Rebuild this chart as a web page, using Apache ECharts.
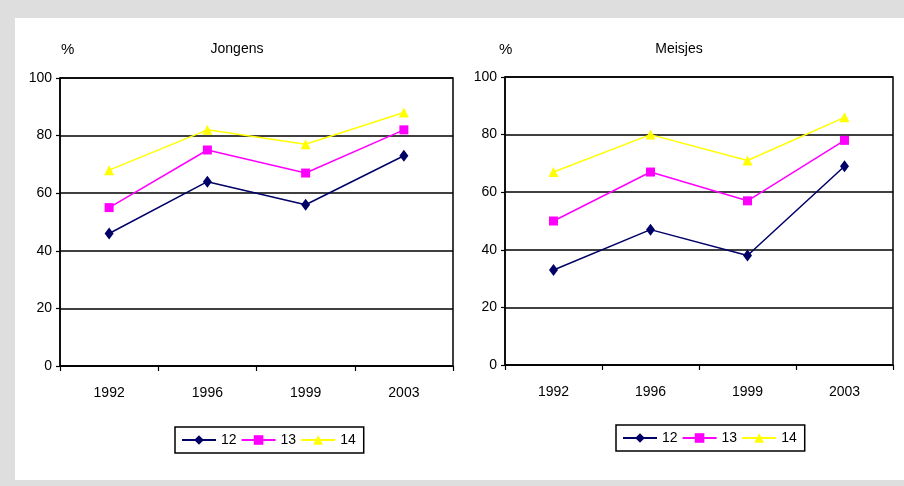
<!DOCTYPE html>
<html>
<head>
<meta charset="utf-8">
<script src="https://cdn.jsdelivr.net/npm/echarts@6/dist/echarts.min.js"></script>
<style>
  html, body { margin: 0; padding: 0; }
  #wrap { position: relative; width: 904px; height: 486px; background: #dedede; overflow: hidden; }
  #inner { position: absolute; left: 15px; top: 18px; width: 889px; height: 462px; background: #ffffff; }
  #chart { position: absolute; left: 0; top: 0; width: 904px; height: 486px; }
</style>
</head>
<body>
<div id="wrap"><div id="inner"></div><div id="chart"></div></div>
<script>
const categories = ['1992', '1996', '1999', '2003'];
const ageGroups = ['12', '13', '14'];
const panelTitles = ['Jongens', 'Meisjes'];
const jongens12 = [46, 64, 56, 73];
const jongens13 = [55, 75, 67, 82];
const jongens14 = [68, 82, 77, 88];
const meisjes12 = [33, 47, 38, 69];
const meisjes13 = [50, 67, 57, 78];
const meisjes14 = [67, 80, 71, 86];
const yMin = 0, yMax = 100, yStep = 20;

const colors = { '12': '#000066', '13': '#ff00ff', '14': '#ffff00' };
const symbols = { '12': 'diamond', '13': 'rect', '14': 'triangle' };
const symbolSizes = { '12': [9, 12], '13': 9, '14': 10 };
const FONT = "'Liberation Sans', Arial, sans-serif";

const panelData = [
  [jongens12, jongens13, jongens14],
  [meisjes12, meisjes13, meisjes14]
];

const grids = [
  { left: 60, top: 78, width: 393, height: 288 },
  { left: 505, top: 77, width: 388, height: 288 }
];

function makeX(i) {
  return {
    type: 'category', gridIndex: i, data: categories, boundaryGap: true,
    axisLine: { show: true, lineStyle: { color: '#000', width: 1.5 } },
    axisTick: { show: true, alignWithLabel: false, length: 5, lineStyle: { color: '#000', width: 1.2 } },
    axisLabel: { color: '#000', fontFamily: FONT, fontSize: 14, margin: 20 },
    splitLine: { show: false }
  };
}
function makeY(i) {
  return {
    type: 'value', gridIndex: i, min: yMin, max: yMax, interval: yStep,
    axisLine: { show: true, lineStyle: { color: '#000', width: 1.5 } },
    axisTick: { show: true, length: 4, lineStyle: { color: '#000', width: 1.2 } },
    axisLabel: { color: '#000', fontFamily: FONT, fontSize: 14, margin: 8 },
    splitLine: { show: true, lineStyle: { color: '#000', width: 1.5 } }
  };
}

const series = [];
panelData.forEach((arrs, p) => {
  arrs.forEach((vals, k) => {
    const name = ageGroups[k];
    series.push({
      name: name, type: 'line', xAxisIndex: p, yAxisIndex: p, data: vals,
      symbol: symbols[name], symbolSize: symbolSizes[name], showAllSymbol: true,
      itemStyle: { color: colors[name] },
      lineStyle: { color: colors[name], width: 1.5 },
      z: 3 + k
    });
  });
});

function makeLegend(left, top) {
  return {
    left: left, top: top, orient: 'horizontal',
    data: ageGroups,
    itemWidth: 34, itemHeight: 12, itemGap: 4,
    padding: [6, 8, 6, 6],
    borderColor: '#000', borderWidth: 1.5,
    textStyle: { color: '#000', fontFamily: FONT, fontSize: 14 },
    selectedMode: false
  };
}

const chart = echarts.init(document.getElementById('chart'));
chart.setOption({
  backgroundColor: 'transparent',
  animation: false,
  title: [
    { text: '%', left: 61, top: 42, textStyle: { fontFamily: FONT, fontSize: 15, fontWeight: 'normal', color: '#000' }, padding: 0 },
    { text: panelTitles[0], left: 237, top: 42, textAlign: 'center', textStyle: { fontFamily: FONT, fontSize: 14, fontWeight: 'normal', color: '#000' }, padding: 0 },
    { text: '%', left: 499, top: 42, textStyle: { fontFamily: FONT, fontSize: 15, fontWeight: 'normal', color: '#000' }, padding: 0 },
    { text: panelTitles[1], left: 679, top: 42, textAlign: 'center', textStyle: { fontFamily: FONT, fontSize: 14, fontWeight: 'normal', color: '#000' }, padding: 0 }
  ],
  grid: grids.map(g => Object.assign({ show: true, borderColor: '#000', borderWidth: 1.5, backgroundColor: 'transparent', containLabel: false }, g)),
  xAxis: [makeX(0), makeX(1)],
  yAxis: [makeY(0), makeY(1)],
  legend: [makeLegend(175, 427), makeLegend(616, 425)],
  series: series
});
</script>
</body>
</html>
